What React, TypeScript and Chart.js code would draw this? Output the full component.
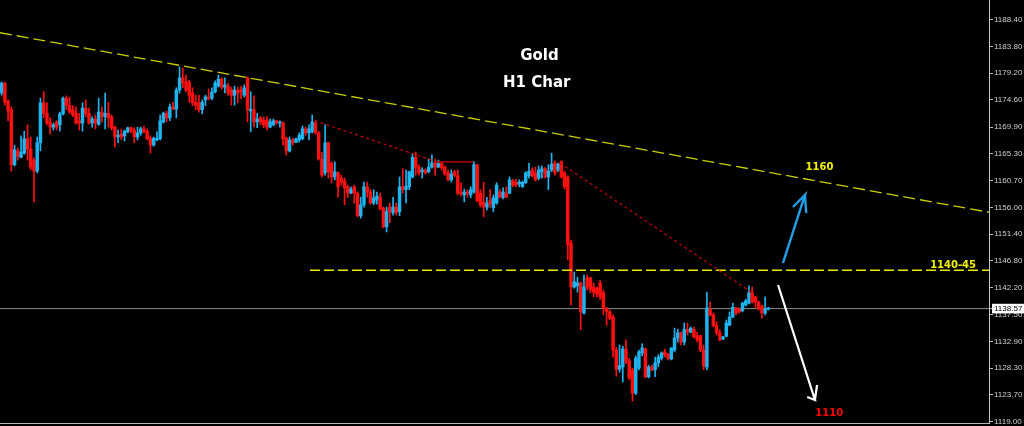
import React, { useEffect, useRef } from 'react';
import { Chart, registerables } from 'chart.js';

Chart.register(...registerables);

// ---- candle data (H1 gold), one entry per bar ----
const opens = [
  1175.8, 1177.5, 1174.4, 1172.9, 1163.4, 1165.8, 1164.7, 1165.4, 1167.9, 1166.1,
  1164.2, 1162.3, 1167.2, 1174.1, 1172.3, 1170.8, 1169.9, 1170.8, 1170.3, 1172.2,
  1174.9, 1173.7, 1172.9, 1172.3, 1171.0, 1170.6, 1173.2, 1172.3, 1170.6, 1171.3,
  1170.4, 1172.5, 1171.7, 1172.3, 1171.7, 1169.9, 1168.2, 1168.7, 1168.4, 1169.1,
  1169.8, 1169.4, 1168.2, 1168.9, 1169.6, 1169.2, 1168.0, 1166.8, 1167.7, 1167.9,
  1170.8, 1172.3, 1171.5, 1173.4, 1173.0, 1176.3, 1178.4, 1177.7, 1177.7, 1175.8,
  1174.2, 1174.1, 1172.9, 1174.6, 1175.1, 1174.9, 1176.0, 1177.0, 1178.2, 1176.8,
  1177.0, 1176.3, 1175.4, 1176.3, 1176.3, 1175.4, 1178.4, 1172.7, 1172.9, 1170.8,
  1171.5, 1171.1, 1171.1, 1169.9, 1170.3, 1171.0, 1170.6, 1170.6, 1168.0, 1165.8,
  1167.7, 1167.3, 1167.7, 1167.9, 1169.6, 1168.9, 1169.1, 1170.6, 1168.9, 1164.4,
  1162.0, 1167.2, 1163.7, 1161.3, 1162.0, 1161.1, 1160.6, 1159.6, 1158.5, 1159.6,
  1158.5, 1154.6, 1156.5, 1159.6, 1158.7, 1156.8, 1157.3, 1157.8, 1155.9, 1152.7,
  1156.1, 1155.1, 1156.1, 1155.3, 1159.6, 1159.1, 1159.6, 1161.3, 1164.7, 1163.0,
  1162.2, 1162.5, 1162.2, 1163.0, 1163.7, 1163.0, 1163.7, 1163.0, 1162.0, 1160.8,
  1162.2, 1161.5, 1158.7, 1158.2, 1158.7, 1158.2, 1158.7, 1163.4, 1158.5, 1157.0,
  1156.1, 1157.2, 1156.0, 1156.8, 1158.7, 1157.8, 1158.5, 1158.5, 1160.6, 1160.4,
  1160.1, 1159.6, 1160.3, 1161.5, 1162.5, 1162.0, 1161.1, 1162.2, 1162.7, 1161.3,
  1162.5, 1163.7, 1162.5, 1163.9, 1162.0, 1161.3, 1149.9, 1142.3, 1142.5, 1143.0,
  1137.8, 1143.9, 1143.9, 1142.3, 1142.1, 1143.0, 1141.3, 1138.7, 1138.0, 1137.1,
  1131.4, 1128.1, 1128.5, 1131.6, 1129.5, 1128.0, 1124.0, 1128.3, 1130.9, 1131.6,
  1126.8, 1128.5, 1128.0, 1129.2, 1130.0, 1131.1, 1130.7, 1129.9, 1131.4, 1133.5,
  1134.4, 1132.8, 1135.0, 1134.5, 1135.0, 1133.9, 1133.9, 1131.4, 1128.5, 1138.5,
  1137.5, 1135.7, 1134.4, 1133.3, 1133.8, 1135.7, 1137.1, 1138.7, 1138.5, 1138.2,
  1139.2, 1139.5, 1141.3, 1140.6, 1139.7, 1139.0, 1137.8, 1138.5,
];

const highs = [
  1177.7, 1177.7, 1174.6, 1173.4, 1166.8, 1166.3, 1168.4, 1169.2, 1170.3, 1168.2,
  1164.6, 1168.2, 1174.9, 1176.0, 1174.1, 1171.5, 1170.6, 1171.0, 1172.5, 1175.1,
  1175.3, 1175.1, 1173.6, 1173.4, 1172.3, 1174.1, 1174.6, 1173.2, 1171.7, 1172.0,
  1174.9, 1173.4, 1175.8, 1174.2, 1172.0, 1170.1, 1169.4, 1169.6, 1169.4, 1169.9,
  1169.9, 1169.8, 1169.9, 1169.9, 1170.1, 1169.6, 1168.4, 1168.2, 1169.1, 1172.0,
  1172.5, 1172.7, 1173.9, 1174.2, 1176.7, 1180.3, 1180.1, 1178.9, 1178.0, 1176.7,
  1175.4, 1175.4, 1174.6, 1175.4, 1176.5, 1176.7, 1177.9, 1178.9, 1178.4, 1178.4,
  1177.5, 1176.8, 1177.0, 1176.8, 1177.0, 1177.2, 1178.6, 1176.0, 1175.3, 1172.3,
  1171.7, 1171.7, 1171.7, 1171.3, 1171.3, 1171.1, 1171.0, 1170.8, 1168.2, 1168.2,
  1168.0, 1168.0, 1168.9, 1170.1, 1169.9, 1170.3, 1172.0, 1171.1, 1169.2, 1165.6,
  1170.3, 1167.3, 1163.9, 1163.9, 1162.2, 1161.6, 1161.1, 1159.9, 1159.6, 1159.9,
  1158.7, 1157.8, 1160.4, 1160.4, 1159.2, 1159.1, 1158.7, 1158.5, 1156.1, 1156.1,
  1156.8, 1157.8, 1156.8, 1161.3, 1162.7, 1162.5, 1162.3, 1165.4, 1165.6, 1163.4,
  1162.9, 1162.7, 1164.4, 1165.1, 1164.4, 1164.2, 1163.9, 1163.2, 1162.5, 1162.5,
  1162.5, 1162.5, 1160.3, 1159.2, 1159.1, 1159.6, 1163.9, 1163.5, 1159.1, 1160.4,
  1157.8, 1159.1, 1158.2, 1160.3, 1159.1, 1159.4, 1159.6, 1161.3, 1160.9, 1160.9,
  1160.8, 1160.6, 1162.2, 1163.7, 1162.9, 1163.0, 1163.2, 1163.2, 1162.9, 1163.4,
  1165.4, 1164.1, 1163.7, 1164.1, 1162.3, 1161.5, 1150.4, 1144.9, 1144.0, 1143.2,
  1144.4, 1144.4, 1144.0, 1143.0, 1142.3, 1143.4, 1141.8, 1138.7, 1138.3, 1137.5,
  1131.9, 1132.3, 1132.1, 1133.2, 1130.0, 1128.3, 1130.4, 1131.4, 1132.5, 1131.8,
  1128.8, 1128.8, 1130.2, 1130.6, 1131.1, 1131.6, 1130.9, 1131.8, 1135.2, 1135.0,
  1134.5, 1136.1, 1136.1, 1135.4, 1135.4, 1134.5, 1134.0, 1132.3, 1141.4, 1139.7,
  1137.8, 1136.3, 1134.9, 1133.8, 1136.6, 1138.0, 1139.5, 1138.8, 1138.7, 1139.7,
  1140.2, 1142.5, 1142.3, 1140.7, 1139.9, 1139.2, 1140.6, 1138.8,
];

const lows = [
  1175.4, 1173.7, 1171.0, 1162.3, 1163.2, 1164.2, 1164.6, 1165.2, 1164.2, 1162.5,
  1157.0, 1162.0, 1165.8, 1171.5, 1170.3, 1168.7, 1169.4, 1169.4, 1169.2, 1172.0,
  1172.9, 1172.3, 1171.7, 1170.4, 1169.4, 1169.2, 1171.7, 1170.4, 1169.9, 1169.6,
  1170.2, 1170.8, 1169.6, 1169.9, 1169.4, 1166.5, 1167.2, 1167.7, 1167.5, 1168.9,
  1168.9, 1167.2, 1167.7, 1168.5, 1168.9, 1167.7, 1165.4, 1166.6, 1167.5, 1167.7,
  1170.6, 1170.8, 1171.0, 1172.9, 1171.5, 1175.8, 1176.7, 1176.0, 1174.2, 1173.6,
  1172.9, 1172.5, 1172.2, 1173.6, 1174.6, 1174.6, 1175.8, 1176.8, 1176.5, 1175.8,
  1175.4, 1173.7, 1173.7, 1174.1, 1174.8, 1175.1, 1170.8, 1169.1, 1169.9, 1169.8,
  1170.3, 1169.8, 1169.4, 1169.8, 1170.1, 1170.4, 1169.9, 1166.8, 1165.1, 1165.6,
  1166.8, 1167.2, 1167.3, 1167.7, 1168.5, 1167.7, 1168.9, 1168.7, 1164.2, 1161.3,
  1161.6, 1161.1, 1160.3, 1160.8, 1157.8, 1159.9, 1156.5, 1157.8, 1158.4, 1156.8,
  1154.4, 1154.2, 1156.1, 1157.8, 1156.6, 1156.5, 1156.6, 1155.6, 1152.5, 1151.8,
  1153.4, 1154.7, 1154.7, 1154.6, 1158.5, 1156.8, 1159.1, 1161.1, 1161.6, 1161.6,
  1161.1, 1161.8, 1162.0, 1162.8, 1161.6, 1162.9, 1162.5, 1161.6, 1160.6, 1160.4,
  1161.3, 1158.2, 1158.0, 1157.0, 1157.8, 1157.7, 1158.5, 1157.0, 1156.1, 1154.4,
  1155.6, 1156.1, 1155.3, 1156.6, 1157.7, 1157.5, 1157.7, 1158.4, 1159.6, 1159.6,
  1159.6, 1159.5, 1160.2, 1161.1, 1161.3, 1160.6, 1160.8, 1161.1, 1161.1, 1159.1,
  1162.2, 1161.6, 1162.2, 1161.1, 1159.2, 1147.0, 1139.2, 1142.1, 1141.4, 1134.9,
  1137.6, 1141.8, 1141.3, 1140.6, 1140.6, 1140.1, 1137.5, 1135.7, 1136.6, 1130.2,
  1126.9, 1127.6, 1125.9, 1129.0, 1126.3, 1122.6, 1123.7, 1128.0, 1130.4, 1126.6,
  1126.6, 1127.8, 1126.8, 1128.5, 1129.7, 1130.2, 1129.7, 1129.7, 1131.1, 1132.8,
  1132.3, 1132.3, 1134.0, 1134.4, 1133.5, 1132.8, 1131.1, 1128.0, 1128.0, 1137.3,
  1135.4, 1134.0, 1133.0, 1133.2, 1133.7, 1135.6, 1137.0, 1137.5, 1137.8, 1138.0,
  1139.0, 1139.4, 1139.5, 1138.8, 1138.3, 1136.9, 1137.5, 1138.3,
];

const closes = [
  1177.5, 1174.2, 1172.7, 1163.4, 1166.0, 1164.9, 1165.6, 1167.9, 1166.1, 1163.0,
  1162.3, 1167.2, 1174.1, 1172.3, 1170.6, 1169.9, 1170.3, 1169.9, 1172.2, 1174.9,
  1173.7, 1172.5, 1172.0, 1170.6, 1170.6, 1173.2, 1172.2, 1170.6, 1171.3, 1170.6,
  1172.5, 1171.7, 1172.3, 1171.5, 1169.8, 1168.2, 1168.5, 1168.2, 1169.2, 1169.8,
  1169.2, 1168.2, 1168.9, 1169.6, 1169.1, 1167.9, 1166.8, 1168.0, 1168.0, 1171.0,
  1172.3, 1171.5, 1173.4, 1173.0, 1176.3, 1178.4, 1177.5, 1176.3, 1175.4, 1174.1,
  1173.7, 1172.9, 1174.2, 1175.1, 1174.8, 1176.0, 1177.5, 1178.2, 1176.8, 1177.2,
  1175.8, 1175.4, 1176.3, 1175.8, 1176.0, 1176.7, 1172.9, 1173.0, 1170.8, 1171.3,
  1170.8, 1170.3, 1169.9, 1170.8, 1171.0, 1170.6, 1170.8, 1167.9, 1165.8, 1167.7,
  1167.2, 1167.9, 1168.5, 1169.6, 1168.9, 1169.6, 1170.8, 1168.9, 1164.4, 1161.6,
  1167.2, 1162.2, 1161.3, 1162.2, 1159.6, 1160.4, 1159.4, 1158.5, 1159.2, 1158.5,
  1154.6, 1156.5, 1159.6, 1158.7, 1156.8, 1157.7, 1158.0, 1155.8, 1152.7, 1155.3,
  1155.3, 1156.1, 1155.1, 1159.6, 1159.1, 1159.7, 1162.2, 1164.7, 1163.0, 1162.0,
  1162.5, 1162.0, 1163.0, 1163.7, 1163.0, 1163.7, 1162.9, 1161.8, 1160.8, 1161.8,
  1161.6, 1158.5, 1158.4, 1158.7, 1158.4, 1159.1, 1163.4, 1157.2, 1156.5, 1156.1,
  1156.8, 1156.6, 1157.7, 1159.9, 1157.8, 1158.7, 1157.8, 1160.8, 1159.9, 1159.9,
  1160.4, 1160.4, 1162.0, 1162.3, 1161.5, 1160.8, 1162.5, 1162.7, 1161.3, 1162.3,
  1163.5, 1162.0, 1163.5, 1161.3, 1159.6, 1149.6, 1142.3, 1143.2, 1143.0, 1138.0,
  1142.3, 1142.3, 1141.8, 1141.4, 1141.1, 1140.6, 1138.7, 1138.0, 1136.9, 1131.4,
  1128.1, 1128.7, 1131.6, 1129.4, 1126.6, 1124.0, 1130.0, 1131.1, 1131.8, 1126.8,
  1128.5, 1128.0, 1129.2, 1130.2, 1130.9, 1130.6, 1129.9, 1131.8, 1133.5, 1134.4,
  1132.8, 1135.0, 1134.5, 1135.2, 1133.7, 1133.2, 1131.4, 1128.7, 1138.7, 1137.5,
  1135.6, 1134.4, 1133.2, 1133.7, 1136.1, 1137.1, 1138.8, 1137.8, 1138.0, 1139.5,
  1139.9, 1141.3, 1139.7, 1139.7, 1138.5, 1137.8, 1138.5, 1138.57,
];

// price-axis labels
const priceTicks = [
  1188.4, 1183.8, 1179.2, 1174.6, 1169.9, 1165.3, 1160.7, 1156.0,
  1151.4, 1146.8, 1142.2, 1137.5, 1132.9, 1128.3, 1123.7, 1119.0,
];
const lastPrice = 1138.57;

// drawn lines: [bar index, price] pairs
const trendLine = [[-0.5, 1186.2], [305.2, 1155.2]];
const supportZone = [[95.3, 1145.2], [305.2, 1145.2]];
const redDotted1 = [[96.9, 1171.0], [134.6, 1163.9]];
const redSolid = [[134.6, 1163.9], [145.7, 1163.9]];
const redDotted2 = [[172.6, 1163.7], [232.0, 1141.3]];
const blueArrow = [[241.5, 1146.44], [248.3, 1158.18], [244.6, 1156.11], [248.3, 1158.18], [248.7, 1155.08]];
const whiteArrow = [[240.0, 1142.64], [251.4, 1122.79], [249.0, 1123.31], [251.4, 1122.79], [252.05, 1125.38]];

const X_MIN = -0.5;
const X_MAX = 305.2;
const Y_MIN = 1118.82;
const Y_MAX = 1191.85;

const UP = '#1eb4f0';
const DOWN = '#ff1010';

const pts = (arr: number[][]) => arr.map(([x, y]) => ({ x, y }));

const lineDs = (data: number[][], color: string, width: number, dash: number[], order: number) => ({
  type: 'line',
  data: pts(data),
  borderColor: color,
  borderWidth: width,
  borderDash: dash,
  pointRadius: 0,
  tension: 0,
  fill: false,
  order,
});

const notesPlugin = {
  id: 'notes',
  afterDatasetsDraw(chart: any) {
    const { ctx, chartArea, scales } = chart;
    const x = scales.x;
    const y = scales.y;
    ctx.save();
    ctx.textAlign = 'center';
    ctx.textBaseline = 'middle';
    // title
    ctx.fillStyle = '#ffffff';
    ctx.font = 'bold 15px "DejaVu Sans", sans-serif';
    ctx.fillText('Gold', chartArea.left + 539.5, chartArea.top + 56.5);
    ctx.fillText('H1 Char', chartArea.left + 536.7, chartArea.top + 83);
    // level labels
    ctx.font = 'bold 10px "DejaVu Sans", sans-serif';
    ctx.fillStyle = '#f2f200';
    ctx.fillText('1160', x.getPixelForValue(252.8), y.getPixelForValue(1163.0));
    ctx.fillText('1140-45', x.getPixelForValue(294.1), y.getPixelForValue(1146.1));
    ctx.fillStyle = '#ff0000';
    ctx.fillText('1110', x.getPixelForValue(255.8), y.getPixelForValue(1120.4));
    ctx.restore();
  },
};

export default function App() {
  const ref = useRef<HTMLCanvasElement>(null);

  useEffect(() => {
    document.body.style.margin = '0';
    document.body.style.background = '#000';
    const colors = opens.map((o, i) => (closes[i] >= o ? UP : DOWN));
    const wickData = lows.map((l, i) => ({ x: i, y: [l, highs[i]] }));
    const bodyData = opens.map((o, i) => ({ x: i, y: [o, closes[i]] }));

    const chart = new Chart(ref.current as HTMLCanvasElement, {
      type: 'bar',
      data: {
        datasets: [
          lineDs(whiteArrow, '#ffffff', 2.2, [], 0),
          lineDs(blueArrow, '#1f9fe6', 2.4, [], 0),
          lineDs(redDotted2, '#d00000', 1.2, [3, 3], 2),
          lineDs(redDotted1, '#d00000', 1.2, [3, 3], 2),
          lineDs(redSolid, '#9a0000', 1.6, [], 2),
          lineDs(supportZone, '#e8e800', 1.4, [10, 4], 3),
          lineDs(trendLine, '#cccc00', 1.3, [12, 5], 3),
          {
            type: 'bar',
            data: bodyData,
            backgroundColor: colors,
            barThickness: 2.8,
            minBarLength: 1,
            grouped: false,
            borderWidth: 0,
            order: 5,
          },
          {
            type: 'bar',
            data: wickData,
            backgroundColor: colors,
            barThickness: 1,
            grouped: false,
            borderWidth: 0,
            order: 6,
          },
          lineDs([[X_MIN, lastPrice], [X_MAX, lastPrice]], '#8c8c8c', 1, [], 7),
        ] as any,
      },
      options: {
        responsive: false,
        animation: false,
        events: [],
        layout: { padding: { left: 0, top: 0, right: 0, bottom: 3 } },
        plugins: { legend: { display: false }, tooltip: { enabled: false }, title: { display: false } },
        scales: {
          x: {
            type: 'linear',
            min: X_MIN,
            max: X_MAX,
            offset: false,
            ticks: { display: false },
            grid: { display: false, drawTicks: false, tickLength: 0 },
            border: { display: true, color: '#b8b8b8', width: 1 },
            afterFit: (scale: any) => {
              scale.height = 0;
              scale.paddingLeft = 0;
              scale.paddingRight = 0;
            },
          },
          y: {
            type: 'linear',
            position: 'right',
            min: Y_MIN,
            max: Y_MAX,
            afterBuildTicks: (scale: any) => {
              scale.ticks = [...priceTicks.map((v) => ({ value: v })), { value: lastPrice }];
            },
            afterFit: (scale: any) => {
              scale.width = 35;
              scale.paddingTop = 0;
              scale.paddingBottom = 0;
            },
            ticks: {
              autoSkip: false,
              padding: 1,
              font: { family: '"Liberation Sans", Arial, sans-serif', size: 8 },
              color: (c: any) => (c.tick && c.tick.value === lastPrice ? '#000000' : '#d0d0d0'),
              showLabelBackdrop: true,
              backdropColor: (c: any) => (c.tick && c.tick.value === lastPrice ? '#ffffff' : 'rgba(0,0,0,0)'),
              backdropPadding: { top: 0, bottom: 0, left: 2, right: 3 },
              callback: (v: any) => Number(v).toFixed(2),
            },
            grid: { display: true, drawOnChartArea: false, drawTicks: true, tickLength: 4, color: '#b8b8b8' },
            border: { display: true, color: '#c8c8c8', width: 1 },
          },
        },
      } as any,
      plugins: [notesPlugin],
    });
    return () => chart.destroy();
  }, []);

  return (
    <div style={{ width: 1024, height: 426, background: '#000', position: 'fixed', left: 0, top: 0 }}>
      <canvas ref={ref} width={1024} height={426} style={{ display: 'block' }} />
    </div>
  );
}
